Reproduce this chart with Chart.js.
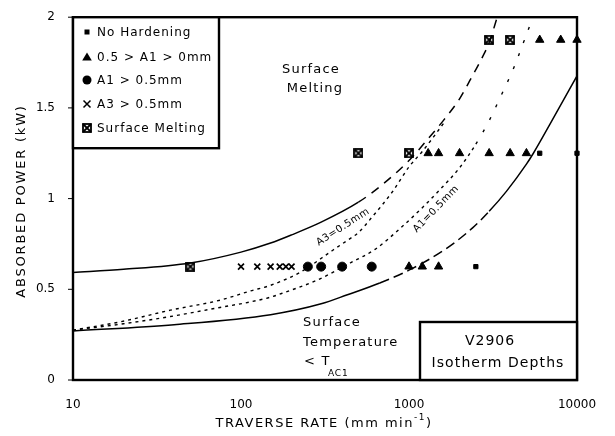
<!DOCTYPE html>
<html>
<head>
<meta charset="utf-8">
<script src="https://cdn.jsdelivr.net/npm/chart.js@4"></script>
<style>
  html, body { margin: 0; padding: 0; background: #fff; }
  #wrap { width: 615px; height: 436px; }
</style>
</head>
<body>
<div id="wrap"><canvas id="c" width="615" height="436"></canvas></div>
<script>
// Axis ticks
const xTickValues = [10, 100, 1000, 10000];
const xTickLabels = ['10', '100', '1000', '10000'];
const yTickValues = [0, 0.5, 1, 1.5, 2];
const yTickLabels = ['0', '0.5', '1', '1.5', '2'];

// Experimental points: traverse rate (mm/min) and absorbed power (kW)
const noHardX = [2500, 6000, 10000];
const noHardY = [0.625, 1.25, 1.25];
const a1LowX = [1000, 1200, 1500, 1300, 1500, 2000, 3000, 4000, 5000, 6000, 8000, 10000];
const a1LowY = [0.625, 0.625, 0.625, 1.25, 1.25, 1.25, 1.25, 1.25, 1.25, 1.875, 1.875, 1.875];
const a1HighX = [250, 300, 400, 600];
const a1HighY = [0.625, 0.625, 0.625, 0.625];
const a3X = [100, 125, 150, 170, 185, 200];
const a3Y = [0.625, 0.625, 0.625, 0.625, 0.625, 0.625];
const meltX = [50, 500, 1000, 3000, 4000];
const meltY = [0.625, 1.25, 1.25, 1.875, 1.875];

// Boundary curves
const meltLineX = [10, 20, 50, 100, 150, 200, 300, 500, 700, 1000, 1300, 1600, 2000, 2300, 2700, 3000, 3350];
const meltLineY = [0.593, 0.61, 0.645, 0.705, 0.755, 0.80, 0.87, 0.98, 1.08, 1.21, 1.33, 1.43, 1.55, 1.65, 1.77, 1.86, 2.0];
const a3LineX = [10, 19, 38, 75, 113, 150, 224, 350, 430, 500, 600, 800, 1000, 1200, 1400, 1650];
const a3LineY = [0.275, 0.32, 0.385, 0.44, 0.49, 0.522, 0.593, 0.714, 0.77, 0.813, 0.896, 1.04, 1.175, 1.26, 1.34, 1.43];
const a1LineX = [10, 20, 38, 75, 113, 149, 178, 283, 446, 628, 884, 1200, 1530, 2000, 2500, 3000, 3500, 4200, 4800, 5470];
const a1LineY = [0.275, 0.31, 0.35, 0.40, 0.43, 0.456, 0.48, 0.55, 0.645, 0.72, 0.835, 0.95, 1.05, 1.17, 1.30, 1.43, 1.56, 1.72, 1.86, 2.0];
const ac1LineX = [10, 40, 150, 300, 430, 670, 1050, 1700, 2400, 3000, 3800, 5000, 5500, 7000, 10000];
const ac1LineY = [0.27, 0.305, 0.36, 0.42, 0.47, 0.535, 0.615, 0.73, 0.84, 0.93, 1.04, 1.19, 1.25, 1.42, 1.676];

const FONT = "'DejaVu Sans', 'Liberation Sans', sans-serif";

function pts(xs, ys) { return xs.map((x, i) => ({ x: x, y: ys[i] })); }

// Boxed cross used for the surface-melting marker
function meltIcon(size) {
  const c = document.createElement('canvas');
  c.width = size; c.height = size;
  const g = c.getContext('2d');
  g.strokeStyle = '#000';
  g.lineWidth = 1.8;
  g.strokeRect(1, 1, size - 2, size - 2);
  g.beginPath();
  g.moveTo(1, 1); g.lineTo(size - 1, size - 1);
  g.moveTo(size - 1, 1); g.lineTo(1, size - 1);
  g.stroke();
  return c;
}
const meltImg = meltIcon(10);

function drawMarker(ctx, style, x, y) {
  ctx.save();
  ctx.fillStyle = '#000';
  ctx.strokeStyle = '#000';
  if (style === 'rect') {
    ctx.fillRect(x - 2.5, y - 2.5, 5, 5);
  } else if (style === 'triangle') {
    ctx.beginPath();
    ctx.moveTo(x, y - 4.5); ctx.lineTo(x + 4.8, y + 3.5); ctx.lineTo(x - 4.8, y + 3.5);
    ctx.closePath(); ctx.fill();
  } else if (style === 'circle') {
    ctx.beginPath(); ctx.arc(x, y, 4.5, 0, Math.PI * 2); ctx.fill();
  } else if (style === 'cross') {
    ctx.lineWidth = 1.5;
    ctx.beginPath();
    ctx.moveTo(x - 3.5, y - 3.5); ctx.lineTo(x + 3.5, y + 3.5);
    ctx.moveTo(x + 3.5, y - 3.5); ctx.lineTo(x - 3.5, y + 3.5);
    ctx.stroke();
  } else if (style === 'melt') {
    ctx.drawImage(meltImg, x - 5, y - 5);
  }
  ctx.restore();
}

function spacedText(ctx, text, x, y, align, spacing) {
  ctx.save();
  ctx.letterSpacing = spacing + 'px';
  let w = ctx.measureText(text).width;
  let sx = x;
  if (align === 'center') sx = x - w / 2;
  else if (align === 'right') sx = x - w;
  ctx.textAlign = 'left';
  ctx.fillText(text, sx, y);
  ctx.restore();
  return w;
}

const legendRows = [
  { style: 'rect', label: 'No Hardening' },
  { style: 'triangle', label: '0.5 > A1 > 0mm' },
  { style: 'circle', label: 'A1 > 0.5mm' },
  { style: 'cross', label: 'A3 > 0.5mm' },
  { style: 'melt', label: 'Surface Melting' }
];

const decor = {
  id: 'decor',
  afterDatasetsDraw(chart) {
    const ctx = chart.ctx;
    const a = chart.chartArea;
    ctx.save();
    ctx.strokeStyle = '#000';
    ctx.lineWidth = 2.4;
    ctx.strokeRect(a.left, a.top, a.right - a.left, a.bottom - a.top);

    // small y-axis tick marks
    ctx.lineWidth = 1;
    yTickValues.forEach(v => {
      const py = chart.scales.y.getPixelForValue(v);
      ctx.beginPath();
      ctx.moveTo(a.left - 5, py); ctx.lineTo(a.left, py);
      ctx.stroke();
    });
    ctx.lineWidth = 2.4;

    // legend box
    ctx.fillStyle = '#fff';
    ctx.fillRect(a.left, a.top, 146, 131);
    ctx.strokeRect(a.left, a.top, 146, 131);
    ctx.fillStyle = '#000';
    ctx.font = '12px ' + FONT;
    ctx.textBaseline = 'middle';
    const rowY = [32, 57, 80, 104, 128];
    legendRows.forEach((r, i) => {
      drawMarker(ctx, r.style, 87, rowY[i]);
      spacedText(ctx, r.label, 97, rowY[i] + 1, 'left', 1);
    });

    // isotherm box
    ctx.fillStyle = '#fff';
    ctx.fillRect(420, 322, a.right - 420, a.bottom - 322);
    ctx.strokeRect(420, 322, a.right - 420, a.bottom - 322);
    ctx.fillStyle = '#000';
    ctx.font = '14px ' + FONT;
    spacedText(ctx, 'V2906', 490, 341, 'center', 1);
    spacedText(ctx, 'Isotherm Depths', 498, 363, 'center', 1.1);

    // region labels
    ctx.font = '13px ' + FONT;
    spacedText(ctx, 'Surface', 311, 70, 'center', 1.2);
    spacedText(ctx, 'Melting', 315, 89, 'center', 1.2);
    spacedText(ctx, 'Surface', 303, 323, 'left', 1.2);
    spacedText(ctx, 'Temperature', 303, 343, 'left', 1.2);
    spacedText(ctx, '< T', 304, 362, 'left', 1.2);
    ctx.font = '9px ' + FONT;
    spacedText(ctx, 'AC1', 328, 374, 'left', 0.8);

    // curve labels
    ctx.font = '10px ' + FONT;
    ctx.save();
    ctx.translate(343, 227);
    ctx.rotate(-33 * Math.PI / 180);
    spacedText(ctx, 'A3=0.5mm', 0, 0, 'center', 0.5);
    ctx.restore();
    ctx.save();
    ctx.translate(436, 209);
    ctx.rotate(-46 * Math.PI / 180);
    spacedText(ctx, 'A1=0.5mm', 0, 0, 'center', 0.5);
    ctx.restore();

    // axis titles
    ctx.font = '13px ' + FONT;
    ctx.save();
    ctx.translate(22, 201);
    ctx.rotate(-Math.PI / 2);
    spacedText(ctx, 'ABSORBED POWER (kW)', 0, 0, 'center', 1.8);
    ctx.restore();

    const main = 'TRAVERSE RATE (mm min';
    ctx.save();
    ctx.letterSpacing = '1.5px';
    const w1 = ctx.measureText(main).width;
    ctx.font = '9px ' + FONT;
    const w2 = ctx.measureText('-1').width;
    ctx.font = '13px ' + FONT;
    const w3 = ctx.measureText(')').width;
    const total = w1 + w2 + w3;
    let sx = 324 - total / 2;
    ctx.textAlign = 'left';
    ctx.fillText(main, sx, 424);
    ctx.font = '9px ' + FONT;
    ctx.fillText('-1', sx + w1, 418);
    ctx.font = '13px ' + FONT;
    ctx.fillText(')', sx + w1 + w2, 424);
    ctx.restore();

    ctx.restore();
  }
};

function lineSet(xs, ys, width, dashFn) {
  return {
    type: 'scatter',
    data: pts(xs, ys),
    showLine: true,
    borderColor: '#000',
    borderWidth: width,
    pointRadius: 0,
    fill: false,
    tension: 0.4,
    cubicInterpolationMode: 'monotone',
    segment: { borderDash: dashFn }
  };
}

function pointSet(xs, ys, style, radius, extra) {
  return Object.assign({
    type: 'scatter',
    data: pts(xs, ys),
    pointStyle: style,
    pointRadius: radius,
    pointBackgroundColor: '#000',
    pointBorderColor: '#000',
    pointBorderWidth: 1,
    showLine: false,
    clip: false
  }, extra || {});
}

new Chart(document.getElementById('c'), {
  type: 'scatter',
  data: {
    datasets: [
      pointSet(noHardX, noHardY, 'rect', 3),
      pointSet(a1LowX, a1LowY, 'triangle', 4.8),
      pointSet(a1HighX, a1HighY, 'circle', 4.5),
      pointSet(a3X, a3Y, 'crossRot', 4.2, { pointBorderWidth: 1.7 }),
      pointSet(meltX, meltY, meltImg, 5),
      lineSet(meltLineX, meltLineY, 1.5, c => c.p0.parsed.x >= 480 ? [9, 7] : undefined),
      lineSet(a3LineX, a3LineY, 1.4, () => [3, 4]),
      lineSet(a1LineX, a1LineY, 1.4, c => c.p0.parsed.x >= 2500 ? [3, 11] : [3, 4]),
      lineSet(ac1LineX, ac1LineY, 1.5, c => (c.p0.parsed.x >= 600 && c.p0.parsed.x < 3000) ? [10, 5] : undefined)
    ]
  },
  options: {
    responsive: false,
    animation: false,
    devicePixelRatio: 1,
    layout: { padding: { left: 0, top: 16, right: 38, bottom: 0 } },
    plugins: { legend: { display: false }, tooltip: { enabled: false }, title: { display: false } },
    scales: {
      x: {
        type: 'logarithmic',
        min: 10,
        max: 10000,
        grid: { display: false },
        border: { display: false },
        afterBuildTicks: s => { s.ticks = xTickValues.map(v => ({ value: v })); },
        afterFit: s => { s.height = 56; },
        ticks: {
          color: '#000',
          font: { family: FONT, size: 12 },
          padding: 10,
          maxRotation: 0,
          autoSkip: false,
          callback: (v) => xTickLabels[xTickValues.indexOf(v)]
        }
      },
      y: {
        type: 'linear',
        min: 0,
        max: 2,
        grid: { display: false },
        border: { display: false },
        afterBuildTicks: s => { s.ticks = yTickValues.map(v => ({ value: v })); },
        afterFit: s => { s.width = 73; },
        ticks: {
          color: '#000',
          font: { family: FONT, size: 12 },
          padding: 10,
          callback: (v) => yTickLabels[yTickValues.indexOf(v)]
        }
      }
    }
  },
  plugins: [decor]
});
</script>
</body>
</html>
